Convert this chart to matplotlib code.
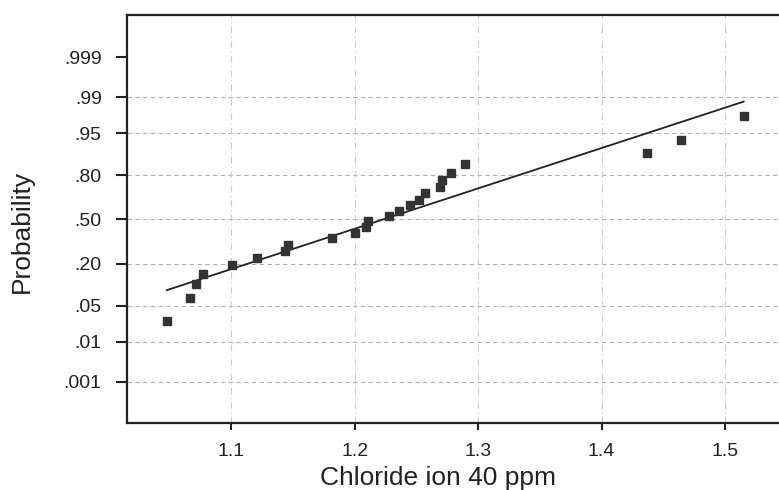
import numpy as np
import matplotlib
matplotlib.use("Agg")
import matplotlib.pyplot as plt
from statistics import NormalDist

plt.rcParams['font.family'] = ['Liberation Sans', 'DejaVu Sans']

# chloride ion readings (ppm scale) and their plotted cumulative probabilities
chloride = [1.048, 1.067, 1.072, 1.077, 1.101, 1.121, 1.144, 1.146,
            1.182, 1.200, 1.209, 1.211, 1.228, 1.236, 1.245, 1.252,
            1.257, 1.269, 1.271, 1.278, 1.289, 1.437, 1.464, 1.515]
prob = [0.026, 0.068, 0.108, 0.150, 0.191, 0.230, 0.276, 0.316,
        0.360, 0.401, 0.441, 0.486, 0.524, 0.564, 0.609, 0.647,
        0.691, 0.730, 0.774, 0.814, 0.854, 0.896, 0.935, 0.976]

# fitted normal line
fit_mean = 1.223
fit_sd = 0.130

prob_ticks = [0.001, 0.01, 0.05, 0.20, 0.50, 0.80, 0.95, 0.99, 0.999]
prob_labels = ['.001', '.01', '.05', '.20', '.50', '.80', '.95', '.99', '.999']
x_ticks = [1.1, 1.2, 1.3, 1.4, 1.5]

nd = NormalDist()
z = [nd.inv_cdf(p) for p in prob]
z_ticks = [nd.inv_cdf(p) for p in prob_ticks]

fig = plt.figure(figsize=(7.79, 4.90), dpi=100)
ax = fig.add_axes([0.1626, 0.1361, 0.8374, 0.8333])

# grid lines
for zt, p in zip(z_ticks, prob_ticks):
    if p < 0.999:
        ax.axhline(zt, color='#b0b0b0', lw=0.8, ls=(0, (4, 3)), zorder=1)
for xt in x_ticks:
    ax.axvline(xt, color='#cccccc', lw=0.8, ls=(0, (6, 3, 1, 3)), zorder=1)

# fitted line
x_line = np.array([min(chloride), max(chloride)])
ax.plot(x_line, (x_line - fit_mean) / fit_sd, color='#222222', lw=1.3, zorder=2)

# data points
ax.plot(chloride, z, ls='none', marker='s', ms=5.4, color='#333333',
        mec='#333333', zorder=3)

ax.set_xlim(1.0155, 1.5436)
ax.set_ylim(-3.883, 3.896)

ax.set_yticks(z_ticks)
ax.set_yticklabels(prob_labels)
ax.set_xticks(x_ticks)
ax.set_xticklabels(['1.1', '1.2', '1.3', '1.4', '1.5'])

ax.tick_params(axis='y', direction='out', length=8, width=1.5, pad=10,
               labelsize=14, colors='#222222')
ax.tick_params(axis='x', direction='out', length=5, width=1.5, pad=9,
               labelsize=14, colors='#222222')

for side in ['left', 'top', 'bottom']:
    ax.spines[side].set_linewidth(1.6)
    ax.spines[side].set_color('#222222')
ax.spines['right'].set_visible(False)

ax.set_xlabel('Chloride ion 40 ppm', fontsize=19, color='#222222')
ax.xaxis.set_label_coords(0.477, -0.151)
ax.xaxis.label.set_va('baseline')
ax.set_ylabel('Probability', fontsize=19, color='#222222')
ax.yaxis.set_label_coords(-0.16, 0.469)
ax.yaxis.label.set_va('center')

fig.savefig('out.png', dpi=100)
